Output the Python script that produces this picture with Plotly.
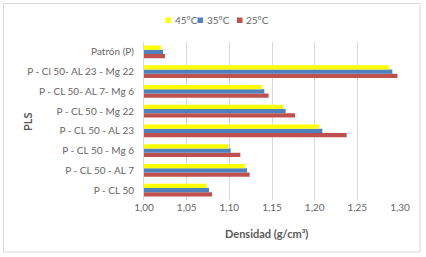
import plotly.graph_objects as go

categories = ["P - CL 50", "P - CL 50 - AL 7", "P - CL 50 - Mg 6", "P - CL 50 - AL 23",
              "P - CL 50 - Mg 22", "P - CL 50- AL 7- Mg 6", "P - Cl 50- AL 23 - Mg 22", "Patrón (P)"]
v25 = [1.0797, 1.1238, 1.1129, 1.2375, 1.177, 1.146, 1.297, 1.0246]
v35 = [1.0762, 1.1207, 1.1016, 1.209, 1.166, 1.141, 1.291, 1.0223]
v45 = [1.0734, 1.1184, 1.0988, 1.205, 1.163, 1.138, 1.287, 1.020]
series_names = ["25°C", "35°C", "45°C"]
colors = ["#C0504D", "#4F81BD", "#FFFF00"]
xticks = [1.00, 1.05, 1.10, 1.15, 1.20, 1.25, 1.30]

fig = go.Figure()
for name, vals, c in zip(series_names, [v25, v35, v45], colors):
    fig.add_trace(go.Bar(y=categories, x=vals, name=name, orientation="h", showlegend=False,
                         marker=dict(color=c, line=dict(width=0))))

font = "Lato"
L, R, T, B = 144, 26, 42, 57
W, H = 426, 257
pw, ph = W - L - R, H - T - B

def px(x):
    return (x - L) / pw

def py(y):
    return (H - B - y) / ph

shapes = [dict(type="rect", xref="paper", yref="paper", x0=px(3.5), x1=px(420), y0=py(252), y1=py(3.5),
               line=dict(color="#D9D9D9", width=1), fillcolor="rgba(0,0,0,0)", layer="below")]
annotations = [
    dict(text="<b>Densidad (g/cm³)</b>", x=px(266), y=py(233), xref="paper", yref="paper",
         showarrow=False, font=dict(size=11, color="#595959"), xanchor="center", yanchor="middle"),
    dict(text="<b>PLS</b>", x=px(27), y=py(122), xref="paper", yref="paper", textangle=-90,
         showarrow=False, font=dict(size=11, color="#595959"), xanchor="center", yanchor="middle"),
]
# manual legend (order as in reference: 45, 35, 25)
leg_x = [165.5, 197.5, 237]
for (name, c), lx in zip(list(zip(series_names, colors))[::-1], leg_x):
    shapes.append(dict(type="rect", xref="paper", yref="paper", x0=px(lx), x1=px(lx + 5.5),
                       y0=py(23), y1=py(17.5), fillcolor=c, line=dict(width=0)))
    annotations.append(dict(text=name, x=px(lx + 7), y=py(20.5), xref="paper", yref="paper",
                            showarrow=False, xanchor="left", yanchor="middle",
                            font=dict(size=10, color="#666666")))

fig.update_layout(
    template="none",
    width=W, height=H, barmode="group", bargap=0.35, bargroupgap=0,
    margin=dict(l=L, r=R, t=T, b=B, autoexpand=False),
    paper_bgcolor="white", plot_bgcolor="white",
    separators=",.",
    font=dict(family=font, size=10, color="#666666"),
    showlegend=False,
    xaxis=dict(range=[1.0, 1.30], tickvals=xticks, tickformat=".2f", showgrid=True, automargin=False,
               gridcolor="#D9D9D9", gridwidth=1, zeroline=False, showline=False,
               ticks="", tickfont=dict(size=10, color="#666666")),
    yaxis=dict(showgrid=False, showline=True, linecolor="#D9D9D9", ticks="outside", ticklen=7,
               automargin=False, tickcolor="rgba(0,0,0,0)", tickfont=dict(size=10, color="#666666")),
    annotations=annotations,
    shapes=shapes,
)

fig.write_html("out.html", config={"displayModeBar": False},
               post_script="document.body.style.margin='0';document.body.style.overflow='hidden';")
